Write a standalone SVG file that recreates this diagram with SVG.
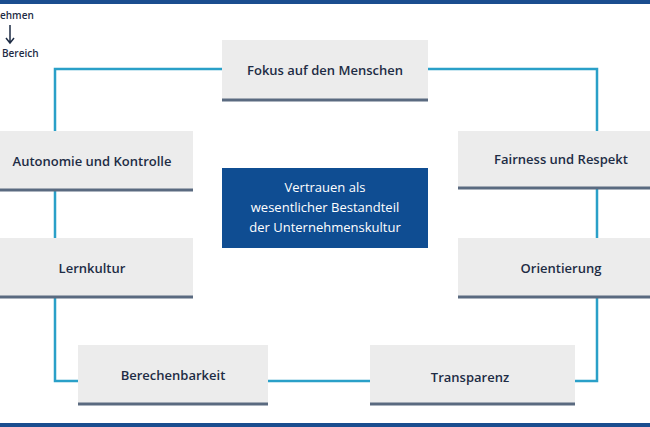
<svg xmlns="http://www.w3.org/2000/svg" width="650" height="427" viewBox="0 0 650 427">
<style>
.b{fill:#ececec}
.u{stroke:#5a6a80;stroke-width:3}
.t{font-family:"Open Sans","Liberation Sans",sans-serif;font-size:13px;font-weight:600;fill:#1e2c45;text-anchor:middle}
.c{fill:none;stroke:#2aa0c8;stroke-width:2.5}
</style>
<rect width="650" height="427" fill="#fff"/>
<rect x="0" y="0" width="650" height="4" fill="#1a4d8f"/>
<rect x="0" y="423" width="650" height="4" fill="#1a4d8f"/>
<g font-family="Open Sans,Liberation Sans,sans-serif" font-size="10" font-weight="600" fill="#1e2c45">
<text x="0" y="19">ehmen</text>
<text x="2" y="57">Bereich</text>
</g>
<path d="M10 25V42M6 38L10 43L14 38" fill="none" stroke="#1e2c45" stroke-width="1.5"/>
<g id="connectors">
<path class="c" d="M222 69H55V381H78M268 381H370M575 381H597V69H428"/>
</g>
<g id="fokus"><rect class="b" x="222" y="40" width="206" height="59"/><line class="u" x1="222" y1="100" x2="428" y2="100"/><text class="t" x="325" y="75">Fokus auf den Menschen</text></g>
<g id="autonomie"><rect class="b" x="0" y="131" width="193" height="58"/><line class="u" x1="0" y1="190" x2="193" y2="190"/><text class="t" x="92" y="166">Autonomie und Kontrolle</text></g>
<g id="fairness"><rect class="b" x="458" y="131" width="192" height="57"/><line class="u" x1="458" y1="188" x2="650" y2="188"/><text class="t" x="561" y="164">Fairness und Respekt</text></g>
<g id="center"><rect x="222" y="168" width="206" height="80" fill="#0f4d92"/>
<g class="t" style="fill:#fff;font-weight:500"><text x="325" y="192" style="fill:#fff">Vertrauen als</text><text x="325" y="212" style="fill:#fff">wesentlicher Bestandteil</text><text x="325" y="232" style="fill:#fff">der Unternehmenskultur</text></g></g>
<g id="lernkultur"><rect class="b" x="0" y="238" width="193" height="58"/><line class="u" x1="0" y1="297" x2="193" y2="297"/><text class="t" x="92" y="273">Lernkultur</text></g>
<g id="orientierung"><rect class="b" x="458" y="238" width="192" height="58"/><line class="u" x1="458" y1="297" x2="650" y2="297"/><text class="t" x="561" y="273">Orientierung</text></g>
<g id="berechenbarkeit"><rect class="b" x="78" y="345" width="190" height="58"/><line class="u" x1="78" y1="404" x2="268" y2="404"/><text class="t" x="173" y="380">Berechenbarkeit</text></g>
<g id="transparenz"><rect class="b" x="370" y="345" width="205" height="58"/><line class="u" x1="370" y1="404" x2="575" y2="404"/><text class="t" x="470" y="382">Transparenz</text></g>
</svg>
